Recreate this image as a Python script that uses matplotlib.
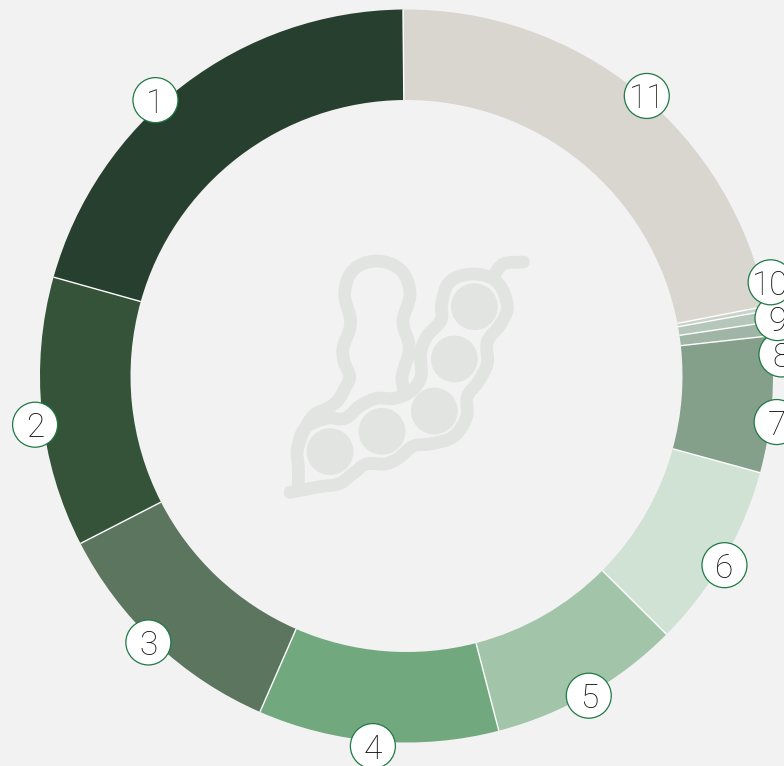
import numpy as np
import matplotlib
matplotlib.use('Agg')
from matplotlib import pyplot as plt
from matplotlib.patches import Circle, PathPatch
from matplotlib.path import Path

labels = ['1', '2', '3', '4', '5', '6', '7', '8', '9', '10', '11']
values = [20.5, 11.9, 10.9, 10.6, 8.5, 8.2, 6.0, 0.6, 0.5, 0.2, 22.1]
colors = ['#273f2e', '#345338', '#5b755e', '#72a87e', '#a2c5a9', '#d0e2d4',
          '#84a08a', '#a0b5a5', '#b5c6ba', '#c8d2cb', '#d9d6d0']

# the badges were nudged off the slice middles in the original
badge_shift = [4.85, 1.7, -0.9, -0.7, -0.2, -0.7, -2.6, -4.1, -0.5, 3.8, -1.4]
badge_radius = [373, 374.6, 371, 371.6, 368, 370, 373, 375.6, 375.5, 376, 369]

W, H = 784, 766
CX, CY = 406.5, 376
R_OUT, R_IN = 366.5, 276
BG = '#f2f2f2'
ICON = '#e2e4e2'
GREEN = '#1f7a45'

# icon outline, in pixels of a 270x270 box scaled by 3
back_pod = [(82, 625), (100, 575), (133, 524), (172, 505), (202, 483), (225, 445), (239, 410),
            (222, 365), (219, 325), (242, 250), (224, 160), (250, 90), (320, 63),
            (392, 90), (420, 160), (399, 245), (418, 325), (396, 410), (400, 445)]
front_pod = [(85, 750), (85, 680), (82, 630), (105, 565), (170, 535), (225, 535),
             (270, 498), (320, 475), (375, 475), (425, 452), (453, 410), (452, 340),
             (470, 290), (513, 240), (515, 190), (540, 125), (610, 102), (680, 125),
             (712, 200), (690, 255), (652, 305), (652, 370), (625, 425), (592, 470),
             (590, 530), (550, 590), (480, 612), (430, 618), (385, 655), (345, 672),
             (290, 672), (250, 700), (210, 730), (150, 740), (60, 757)]
stem = [(672, 105), (700, 72), (760, 66)]
peas = [(613, 200), (553, 357), (493, 513), (336, 574), (180, 635)]


def to_px(p):
    return (270 + p[0] / 3, H - (240 + p[1] / 3))


def spline_path(points):
    pts = np.array([to_px(p) for p in points])
    tang = np.zeros_like(pts)
    tang[1:-1] = pts[2:] - pts[:-2]
    tang[0] = pts[1] - pts[0]
    tang[-1] = pts[-1] - pts[-2]
    tang = tang / np.linalg.norm(tang, axis=1, keepdims=True)
    verts = [pts[0]]
    codes = [Path.MOVETO]
    for i in range(len(pts) - 1):
        d = np.linalg.norm(pts[i + 1] - pts[i]) / 3
        verts.append(pts[i] + tang[i] * d)
        verts.append(pts[i + 1] - tang[i + 1] * d)
        verts.append(pts[i + 1])
        codes += [Path.CURVE4] * 3
    return Path(verts, codes)


def draw_icon(ax):
    for line in [back_pod, front_pod, stem]:
        ax.add_patch(PathPatch(spline_path(line), fc='none', ec=ICON, lw=9.2,
                               capstyle='round', joinstyle='round', zorder=2))
    for p in peas:
        ax.add_patch(Circle(to_px(p), 23.4, fc=ICON, ec='none', zorder=2))


def main():
    fig = plt.figure(figsize=(W / 100, H / 100), dpi=100, facecolor=BG)
    ax = fig.add_axes([0, 0, 1, 1])
    wedges, _ = ax.pie(values, colors=colors, startangle=90.55, radius=R_OUT,
                       center=(CX, H - CY), frame=False,
                       wedgeprops={'width': R_OUT - R_IN, 'edgecolor': 'none'})
    ax.set_xlim(0, W)
    ax.set_ylim(0, H)
    ax.set_aspect('equal')
    ax.axis('off')

    # white only between the slices, not along the arcs
    for w in wedges:
        a = np.radians(w.theta1)
        ax.plot([CX + R_IN * np.cos(a), CX + R_OUT * np.cos(a)],
                [H - CY + R_IN * np.sin(a), H - CY + R_OUT * np.sin(a)],
                color='white', lw=1.0, solid_capstyle='butt', zorder=3)

    draw_icon(ax)

    for w, lab, shift, rad in zip(wedges, labels, badge_shift, badge_radius):
        ang = np.radians((w.theta1 + w.theta2) / 2 + shift)
        x = CX + rad * np.cos(ang)
        y = H - CY + rad * np.sin(ang)
        ax.add_patch(Circle((x, y), 22.5, fc='white', ec=GREEN, lw=0.9, zorder=4))
        ax.text(x, y, lab, ha='center', va='center_baseline', fontsize=24,
                family='Roboto', weight='light', color='#111111', zorder=5)

    fig.savefig('out.png', dpi=100, facecolor=BG)


if __name__ == '__main__':
    main()
